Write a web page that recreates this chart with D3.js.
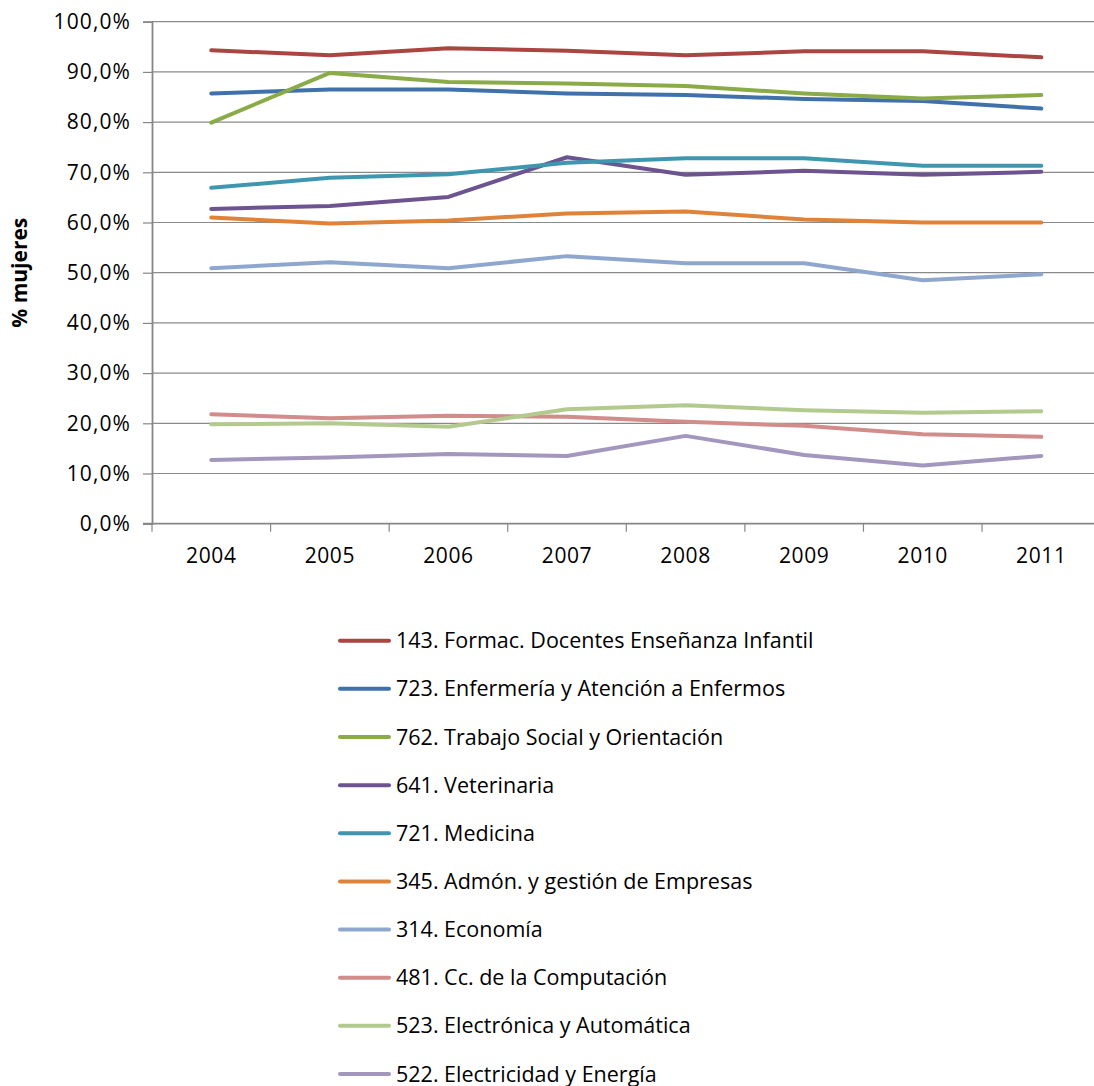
<!DOCTYPE html>
<html>
<head>
<meta charset="utf-8">
<script src="https://cdn.jsdelivr.net/npm/d3@7"></script>
<style>
  html, body { margin: 0; padding: 0; background: #fff; }
  svg { display: block; }
  text { font-family: "Open Sans", Lato, sans-serif; fill: #000; }
</style>
</head>
<body>
<svg id="chart" width="1094" height="1086"></svg>
<script>
const years = ["2004", "2005", "2006", "2007", "2008", "2009", "2010", "2011"];
const yTicks = [0, 10, 20, 30, 40, 50, 60, 70, 80, 90, 100];
const seriesNames = [
  "143. Formac. Docentes Enseñanza Infantil",
  "723. Enfermería y Atención a Enfermos",
  "762. Trabajo Social y Orientación",
  "641. Veterinaria",
  "721. Medicina",
  "345. Admón. y gestión de Empresas",
  "314. Economía",
  "481. Cc. de la Computación",
  "523. Electrónica y Automática",
  "522. Electricidad y Energía"
];
const s143 = [94.3, 93.3, 94.7, 94.2, 93.3, 94.1, 94.1, 92.9];
const s723 = [85.7, 86.5, 86.5, 85.7, 85.4, 84.6, 84.2, 82.7];
const s762 = [79.9, 89.8, 88.0, 87.7, 87.2, 85.7, 84.7, 85.4];
const s641 = [62.7, 63.3, 65.1, 73.0, 69.5, 70.3, 69.5, 70.1];
const s721 = [66.9, 68.9, 69.6, 71.9, 72.8, 72.8, 71.3, 71.3];
const s345 = [61.0, 59.8, 60.4, 61.8, 62.2, 60.6, 60.0, 60.0];
const s314 = [50.9, 52.1, 50.9, 53.3, 51.9, 51.9, 48.5, 49.7];
const s481 = [21.8, 21.0, 21.5, 21.3, 20.3, 19.5, 17.8, 17.3];
const s523 = [19.8, 20.0, 19.3, 22.8, 23.6, 22.6, 22.1, 22.4];
const s522 = [12.7, 13.2, 13.9, 13.5, 17.5, 13.7, 11.6, 13.5];
const seriesValues = [s143, s723, s762, s641, s721, s345, s314, s481, s523, s522];
const seriesColors = ["#AA4542", "#4171AA", "#8AAB48", "#6D5490", "#3E97AF",
                      "#E0833A", "#8FA7CE", "#D28C8A", "#B3CA8E", "#A497BE"];

const svg = d3.select("#chart");
const mLeft = 152, mRight = 1100.6, mTop = 21.7, mBottom = 523.7;
const FONT = "'Open Sans', Lato, sans-serif";

const x = d3.scaleBand().domain(years).range([mLeft, mRight]).padding(0);
const y = d3.scaleLinear().domain([0, 100]).range([mBottom, mTop]);
const fmt = v => d3.format(".1f")(v).replace(".", ",") + "%";

// gridlines
svg.append("g").selectAll("line").data(yTicks.filter(d => d > 0)).join("line")
  .attr("x1", mLeft).attr("x2", mRight)
  .attr("y1", d => y(d)).attr("y2", d => y(d))
  .attr("stroke", "#8a8a8a").attr("stroke-width", 1.2);

// y axis
const yAxis = svg.append("g").attr("transform", `translate(${mLeft},0)`)
  .call(d3.axisLeft(y).tickValues(yTicks).tickFormat(fmt).tickSize(9).tickPadding(12));
yAxis.select(".domain").attr("stroke", "#868686").attr("stroke-width", 1.8);
yAxis.selectAll(".tick line").attr("stroke", "#868686").attr("stroke-width", 1.2);
yAxis.selectAll(".tick text").attr("font-size", 21).attr("font-family", FONT)
  .attr("letter-spacing", 1.1).attr("fill", "#000");

// x axis
const xAxis = svg.append("g").attr("transform", `translate(0,${mBottom})`)
  .call(d3.axisBottom(x).tickSizeOuter(0).tickSize(0).tickPadding(24));
xAxis.select(".domain").attr("stroke", "#868686").attr("stroke-width", 1.8).attr("d", `M${mLeft - 9},0H${mRight}`);
xAxis.selectAll(".tick text").attr("font-size", 21).attr("font-family", FONT)
  .attr("letter-spacing", 0.6).attr("fill", "#000");
// category boundary ticks
svg.append("g").selectAll("line").data(years).join("line")
  .attr("x1", d => x(d)).attr("x2", d => x(d))
  .attr("y1", mBottom).attr("y2", mBottom + 8)
  .attr("stroke", "#868686").attr("stroke-width", 1.2);

// y label
svg.append("text")
  .attr("transform", `translate(27,${(mTop + mBottom) / 2}) rotate(-90)`)
  .attr("text-anchor", "middle")
  .attr("font-size", 21).attr("font-weight", "bold")
  .text("% mujeres");

// lines
const line = d3.line().x((d, i) => x(years[i]) + x.bandwidth() / 2).y(d => y(d));
svg.append("g").selectAll("path").data(seriesValues).join("path")
  .attr("d", d => line(d))
  .attr("fill", "none")
  .attr("stroke", (d, i) => seriesColors[i])
  .attr("stroke-width", 4)
  .attr("stroke-linejoin", "round")
  .attr("stroke-linecap", "round");

// legend
const legY = d3.scalePoint().domain(seriesNames).range([640.7, 1074]);
const leg = svg.append("g").selectAll("g").data(seriesNames).join("g")
  .attr("transform", d => `translate(0,${legY(d)})`);
leg.append("line").attr("x1", 340).attr("x2", 389).attr("y1", 0).attr("y2", 0)
  .attr("stroke", (d, i) => seriesColors[i]).attr("stroke-width", 4).attr("stroke-linecap", "round");
leg.append("text").attr("x", 396).attr("y", 0).attr("dy", "0.35em")
  .attr("font-size", 21.5).text(d => d);
</script>
</body>
</html>
